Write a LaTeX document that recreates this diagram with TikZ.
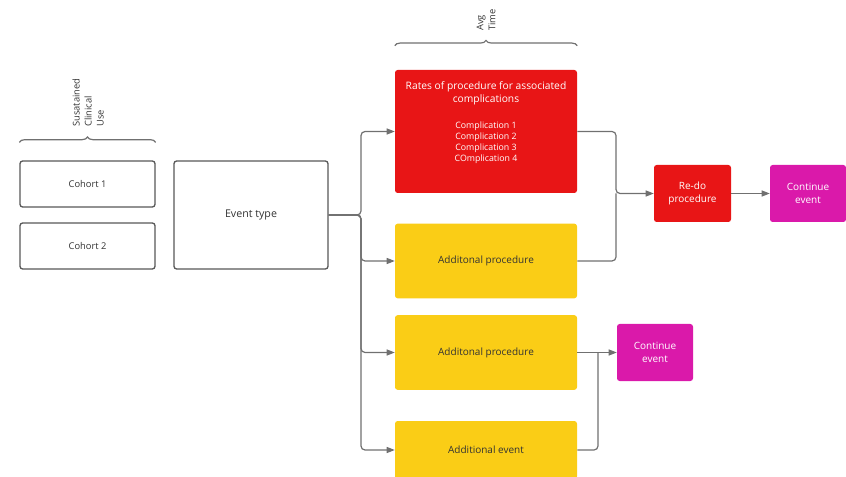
\documentclass[tikz,border=0pt]{standalone}
\usepackage{fontspec}
\setmainfont{Open Sans}
\usepackage{xcolor}
\definecolor{vermelho}{RGB}{232,21,22}
\definecolor{amarelo}{RGB}{250,205,22}
\definecolor{rosa}{RGB}{218,25,170}
\definecolor{cinza}{RGB}{112,112,112}
\definecolor{borda}{RGB}{88,88,88}
\definecolor{escuro}{RGB}{51,51,51}
\usepackage{tikz}
\usetikzlibrary{arrows.meta,positioning,calc,decorations.pathreplacing}

\begin{document}
\begin{tikzpicture}[x=0.75pt,y=-0.75pt,
  caixa/.style={draw=borda, line width=1pt, rounded corners=2pt,
    text=escuro, font=\fontsize{7}{8.5}\selectfont},
  bloco/.style={rounded corners=2pt, minimum width=136.5pt, minimum height=56pt},
  amarela/.style={bloco, fill=amarelo, text=escuro, font=\fontsize{7.5}{9}\selectfont},
  pequena/.style={rounded corners=2pt, minimum height=42.75pt, text=white,
    align=center, font=\fontsize{7.5}{9.5}\selectfont},
  linha/.style={draw=cinza, line width=0.9pt, rounded corners=3pt},
  seta/.style={linha, -{Triangle[length=6pt,width=4.5pt]}},
  chave/.style={draw=cinza, line width=0.9pt, decorate,
    decoration={brace, amplitude=4pt}},
  rotulo/.style={rotate=90, anchor=west, align=left, inner sep=0pt,
    text=escuro, font=\fontsize{7}{9}\selectfont}]
  \useasboundingbox (0,0) rectangle (846,477);

  % coortes e tipo de evento
  \node[caixa, minimum width=101.25pt, minimum height=34.5pt] (coorte1) at (87.5,184) {Cohort 1};
  \node[caixa, minimum width=101.25pt, minimum height=34.5pt] (coorte2) at (87.5,246) {Cohort 2};
  \node[caixa, minimum width=115.5pt, minimum height=81pt,
    font=\fontsize{8}{9.5}\selectfont] (evento) at (251,215) {Event type};

  \draw[chave] (coorte1.north west) ++(0,-18) -- ($(coorte1.north east)+(0,-18)$);
  \node[rotulo] (usoClinico) at (88,127) {Susatained\\Clinical\\Use};

  % procedimentos
  \node[bloco, fill=vermelho, minimum height=92.25pt] (taxas) at (486,131.5) {};
  \node[text=white, align=center, inner sep=0pt, font=\fontsize{7.7}{9.75}\selectfont,
    below=9pt of taxas.north] (tituloTaxas) {Rates of procedure for associated\\complications};
  \node[text=white, align=center, inner sep=0pt, font=\fontsize{6.6}{8.25}\selectfont,
    below=12pt of tituloTaxas] (listaTaxas) {Complication 1\\Complication 2\\Complication 3\\COmplication 4};
  \node[amarela] (adic1) at (486,261) {Additonal procedure};
  \node[amarela] (adic2) at (486,352.5) {Additonal procedure};
  \node[amarela, minimum height=43.5pt] (adic3) at (486,450) {Additional event};

  \draw[chave] (taxas.north west) ++(0,-24) -- ($(taxas.north east)+(0,-24)$);
  \node[rotulo] (tempoMedio) at (486,31) {Avg\\Time};

  % desfechos
  \node[pequena, fill=vermelho, minimum width=57.75pt] (refazer) at (692.5,193.5) {Re-do\\procedure};
  \node[pequena, fill=rosa, minimum width=57pt] (continuar1) at (808,193.5) {Continue\\event};
  \node[pequena, fill=rosa, minimum width=57pt] (continuar2) at (655,352.5) {Continue\\event};

  % ligacoes
  \coordinate (barra) at (361,215);
  \coordinate (juncao1) at (616,193.5);
  \coordinate (juncao2) at (598,352.5);
  \foreach \alvo in {taxas, adic1, adic2, adic3}{
    \draw[seta] (evento.east) -- (barra) |- (\alvo.west);
  }
  \draw[seta] (taxas.east) -| (juncao1) -- (refazer.west);
  \draw[linha] (adic1.east) -| (juncao1);
  \draw[seta] (refazer) -- (continuar1);
  \draw[seta] (adic2) -- (continuar2);
  \draw[linha] (adic3.east) -| (juncao2);
\end{tikzpicture}
\end{document}
